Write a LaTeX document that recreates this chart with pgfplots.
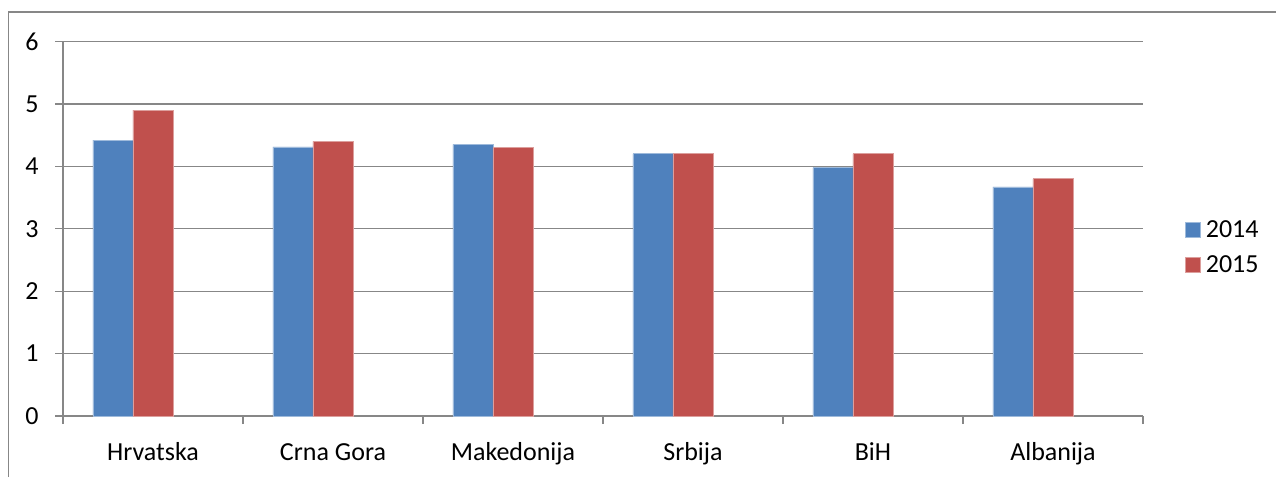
\documentclass[border=0pt]{standalone}
\usepackage{pgfplots}
\pgfplotsset{compat=1.18}
\usepackage{fontspec}
\setmainfont{Carlito}
\definecolor{sblue}{HTML}{4F81BD}
\definecolor{sred}{HTML}{C0504D}
\definecolor{gridc}{HTML}{878787}
\begin{document}
\begin{tikzpicture}[x=1pt,y=1pt]
\useasboundingbox (0,0) rectangle (1276,477);
\draw[gridc, line width=1.2pt] (8.5,0) -- (8.5,465) -- (1276,465);
\begin{axis}[
 at={(63pt,61pt)}, anchor=south west,
 scale only axis, width=1080pt, height=374.5pt,
 xmin=-0.5, xmax=5.5, ymin=0, ymax=6,
 ytick={0,...,6},
 xtick={0,...,5},
 xticklabels={Hrvatska, Crna Gora, Makedonija, Srbija, BiH, Albanija},
 minor xtick={-0.5,0.5,...,5.5},
 major x tick style={draw=none},
 tick align=outside,
 major tick length=8pt, minor tick length=8pt,
 tick style={gridc, line width=1.2pt},
 axis x line*=bottom, axis y line*=left,
 axis line style={gridc, line width=1.2pt, -},
 ymajorgrids, major grid style={gridc, line width=1.2pt},
 ybar=0pt, bar width=40pt,
 /pgf/number format/assume math mode=true,
 tick label style={font=\fontsize{26}{31}\selectfont, text=black},
 yticklabel style={xshift=-13pt},
 xticklabel style={anchor=base, yshift=-36pt},
 legend style={at={(1.036,0.45)}, anchor=west, draw=none, fill=none,
   font=\fontsize{26}{31}\selectfont, row sep=13pt},
 legend cell align=left,
 legend image code/.code={\fill[#1] (0pt,-7.5pt) rectangle (15pt,7.5pt);},
]
\addplot[fill=sblue, draw=sblue!55!white, line width=0.8pt, bar shift=-40pt] coordinates {(0,4.42) (1,4.31) (2,4.35) (3,4.20) (4,3.98) (5,3.67)};
\addplot[fill=sred, draw=sred!55!white, line width=0.8pt, bar shift=0pt] coordinates {(0,4.90) (1,4.40) (2,4.30) (3,4.20) (4,4.20) (5,3.80)};
\legend{\hspace{3pt}2014,\hspace{3pt}2015}
\end{axis}
\end{tikzpicture}
\end{document}
